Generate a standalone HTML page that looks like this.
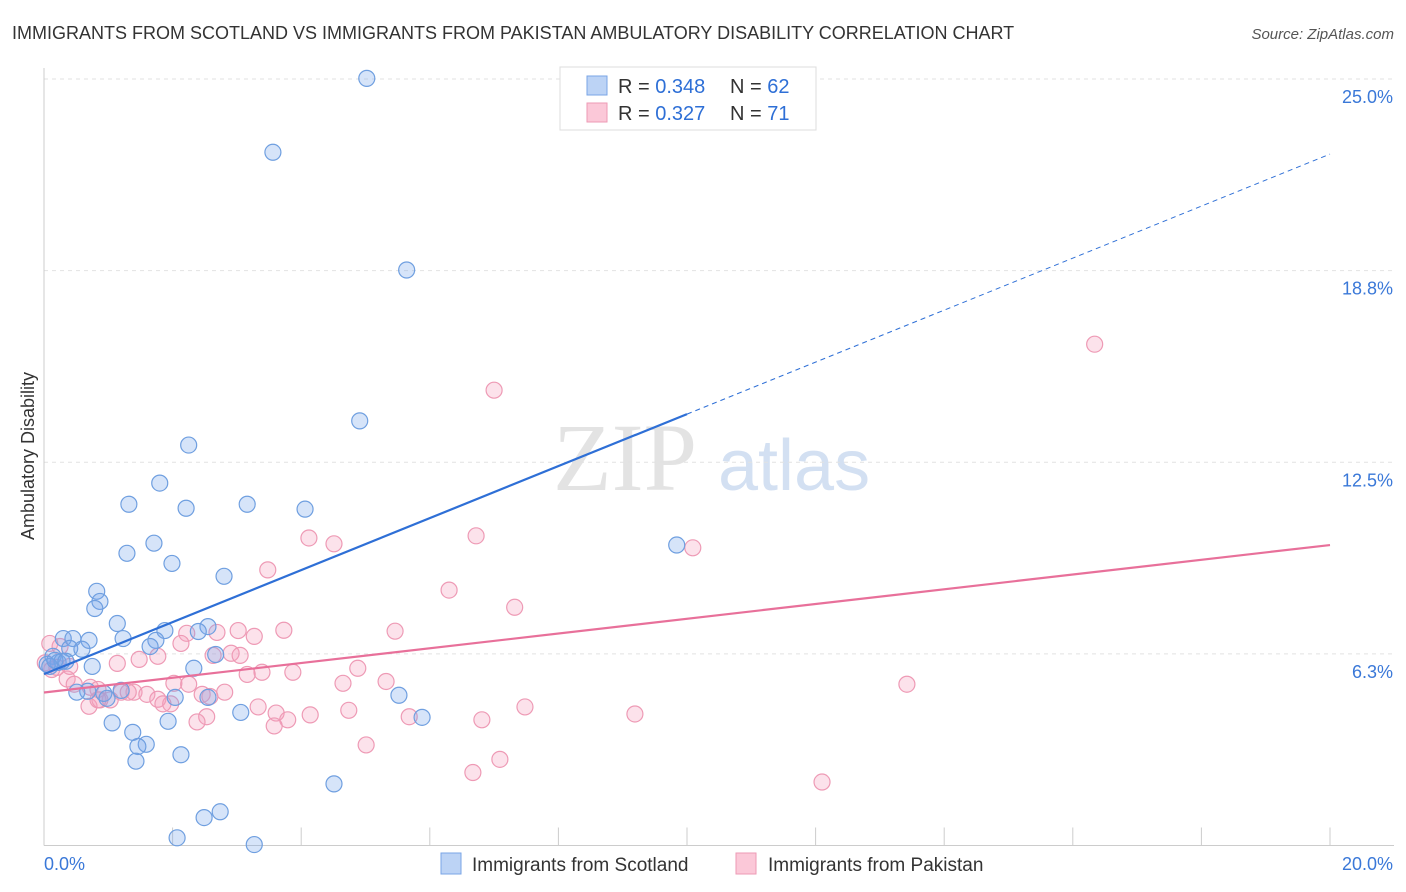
<!DOCTYPE html>
<html><head><meta charset="utf-8"><style>
body{margin:0;background:#fff;font-family:"Liberation Sans",sans-serif}
svg{display:block}
</style></head><body>
<svg width="1406" height="892" xmlns="http://www.w3.org/2000/svg" id="c">
<text x="12" y="39" font-size="18" fill="#333">IMMIGRANTS FROM SCOTLAND VS IMMIGRANTS FROM PAKISTAN AMBULATORY DISABILITY CORRELATION CHART</text>
<text x="1394" y="39" font-size="15" fill="#555" text-anchor="end" font-style="italic">Source: ZipAtlas.com</text>
<text x="553" y="490" font-size="96" fill="#ddd" font-family="Liberation Serif" opacity="0.8">ZIP</text>
<text x="718" y="490" font-size="72" fill="#c9d9f0" opacity="0.8">atlas</text>
<text transform="translate(34,456) rotate(-90)" font-size="18" fill="#333" text-anchor="middle">Ambulatory Disability</text>
<g id="grid"></g><g id="pts"></g><g id="lines"></g>
<g>
<rect x="560" y="67" width="256" height="63" fill="#fff" stroke="#ddd"/>
<rect x="587" y="76" width="20" height="19" fill="#bcd3f5" stroke="#7aa5e6"/>
<rect x="587" y="103" width="20" height="19" fill="#fbc8d8" stroke="#ee9ab5"/>
<text x="618" y="93" font-size="20" fill="#333">R = <tspan fill="#2e6fd6">0.348</tspan></text>
<text x="730" y="93" font-size="20" fill="#333">N = <tspan fill="#2e6fd6">62</tspan></text>
<text x="618" y="120" font-size="20" fill="#333">R = <tspan fill="#2e6fd6">0.327</tspan></text>
<text x="730" y="120" font-size="20" fill="#333">N = <tspan fill="#2e6fd6">71</tspan></text>
</g>
<g>
<rect x="441" y="853" width="20" height="21" fill="#bcd3f5" stroke="#7aa5e6"/>
<text x="472" y="871" font-size="19" fill="#333">Immigrants from Scotland</text>
<rect x="736" y="853" width="20" height="21" fill="#fbc8d8" stroke="#ee9ab5"/>
<text x="768" y="871" font-size="19" fill="#333">Immigrants from Pakistan</text>
</g>
</svg>
<script>
var yTicks=[25.0,18.75,12.5,6.25];
var yTickLabels=["25.0%","18.8%","12.5%","6.3%"];
var xTicks=[0,2,4,6,8,10,12,14,16,18,20];
var scotX=[5.02,3.56,5.64,4.91,2.25,1.80,1.32,2.21,3.16,4.06,1.71,1.29,1.99,2.80,0.82,0.87,0.79,1.14,1.88,1.23,0.30,0.45,0.70,2.55,2.40,1.74,1.65,0.40,0.59,0.14,0.22,0.05,0.28,0.75,2.33,2.67,1.20,0.93,0.68,0.51,0.98,2.04,2.55,3.06,5.52,5.88,1.06,1.93,1.38,1.59,1.46,2.13,1.43,4.51,2.74,2.49,2.07,3.27,9.84,0.09,0.17,0.34];
var scotY=[25.02,22.61,18.77,13.85,13.06,11.82,11.13,11.00,11.13,10.97,9.86,9.53,9.20,8.78,8.29,7.96,7.73,7.24,7.01,6.75,6.75,6.75,6.69,7.14,6.98,6.69,6.49,6.43,6.40,6.17,5.97,5.91,6.01,5.84,5.78,6.23,5.06,4.96,5.03,5.00,4.80,4.83,4.83,4.34,4.90,4.18,4.00,4.05,3.69,3.30,3.23,2.96,2.75,2.01,1.10,0.91,0.25,0.03,9.80,5.84,6.04,6.01];
var pakX=[16.34,7.00,6.72,4.12,4.51,10.09,3.48,6.30,7.32,5.46,3.73,2.22,2.69,3.02,3.27,2.13,0.09,0.25,1.77,1.48,2.63,2.91,3.05,1.14,4.88,3.87,3.39,3.16,1.20,5.32,4.65,2.02,2.25,13.42,0.36,0.47,0.72,0.84,1.40,1.60,1.31,2.81,2.46,2.58,1.77,1.03,1.97,0.70,0.87,3.33,7.48,4.74,3.61,4.14,3.79,2.53,2.38,5.68,6.81,3.58,9.19,5.01,7.09,6.67,12.10,0.02,0.12,0.20,0.40,1.85,0.84];
var pakY=[16.35,14.85,10.10,10.03,9.84,9.71,8.99,8.33,7.77,6.99,7.02,6.92,6.95,7.01,6.82,6.59,6.59,6.49,6.17,6.07,6.20,6.27,6.20,5.94,5.78,5.65,5.65,5.58,5.00,5.35,5.29,5.29,5.26,5.26,5.43,5.26,5.16,5.09,5.00,4.93,5.00,5.00,4.93,4.86,4.77,4.75,4.62,4.54,4.75,4.52,4.52,4.41,4.32,4.26,4.10,4.20,4.03,4.20,4.10,3.90,4.29,3.28,2.81,2.38,2.07,5.96,5.74,5.81,5.84,4.62,4.75];
var scotFit=[5.59,14.07];
var pakFit=[4.99,9.80];
var X0=44,X1=1330,YB=845.5,YT=79;
function sx(v){return X0+(X1-X0)*v/20;}
function sy(v){return YB-(YB-YT)*v/25;}
var NS='http://www.w3.org/2000/svg';
function mk(tag,attrs,parent){var e=document.createElementNS(NS,tag);for(var k in attrs)e.setAttribute(k,attrs[k]);parent.appendChild(e);return e;}
var grid=document.getElementById('grid');
for(var i=0;i<yTicks.length;i++){
  var gl=mk('line',{x1:X0,x2:1394,y1:sy(yTicks[i]),y2:sy(yTicks[i]),stroke:'#e2e2e2','stroke-dasharray':'4,4'},grid);
  
  
  var tx=mk('text',{x:1393,y:sy(yTicks[i])+24,'font-size':18,fill:'#3a78d8','text-anchor':'end'},grid);
  tx.textContent=yTickLabels[i];
  
  
}
var ax=mk('line',{x1:X0,x2:1394,y1:YB,y2:YB,stroke:'#ccc'},grid);


var ay=mk('line',{x1:X0,x2:X0,y1:68,y2:YB,stroke:'#ccc'},grid);


for(var j=0;j<xTicks.length;j++){
  var tk=mk('line',{x1:sx(xTicks[j]),x2:sx(xTicks[j]),y1:YB,y2:YB-18,stroke:'#ccc'},grid);
  
  
}
var xl0=mk('text',{x:44,y:870,'font-size':18,fill:'#3a78d8'},grid);
xl0.textContent='0.0%';


var xl1=mk('text',{x:1393,y:870,'font-size':18,fill:'#3a78d8','text-anchor':'end'},grid);
xl1.textContent='20.0%';


var pts=document.getElementById('pts');
for(var a=0;a<pakX.length;a++){
  var c=mk('circle',{cx:sx(pakX[a]),cy:sy(pakY[a]),r:8,fill:'rgba(244,160,190,0.3)',stroke:'#ee9ab5','stroke-width':1.2},pts);
  
  
}
for(var b=0;b<scotX.length;b++){
  var d=mk('circle',{cx:sx(scotX[b]),cy:sy(scotY[b]),r:8,fill:'rgba(120,165,235,0.3)',stroke:'#6f9fe0','stroke-width':1.2},pts);
  
  
}
var lines=document.getElementById('lines');
var slope=(scotFit[1]-scotFit[0])/10;
var b1=mk('line',{x1:sx(0),y1:sy(scotFit[0]),x2:sx(10),y2:sy(scotFit[1]),stroke:'#2e6fd6','stroke-width':2.2},lines);


var b2=mk('line',{x1:sx(10),y1:sy(scotFit[1]),x2:sx(20),y2:sy(scotFit[0]+slope*20),stroke:'#2e6fd6','stroke-width':1,'stroke-dasharray':'5,4'},lines);


var p1=mk('line',{x1:sx(0),y1:sy(pakFit[0]),x2:sx(20),y2:sy(pakFit[1]),stroke:'#e8709a','stroke-width':2.2},lines);


</script>
</body></html>
